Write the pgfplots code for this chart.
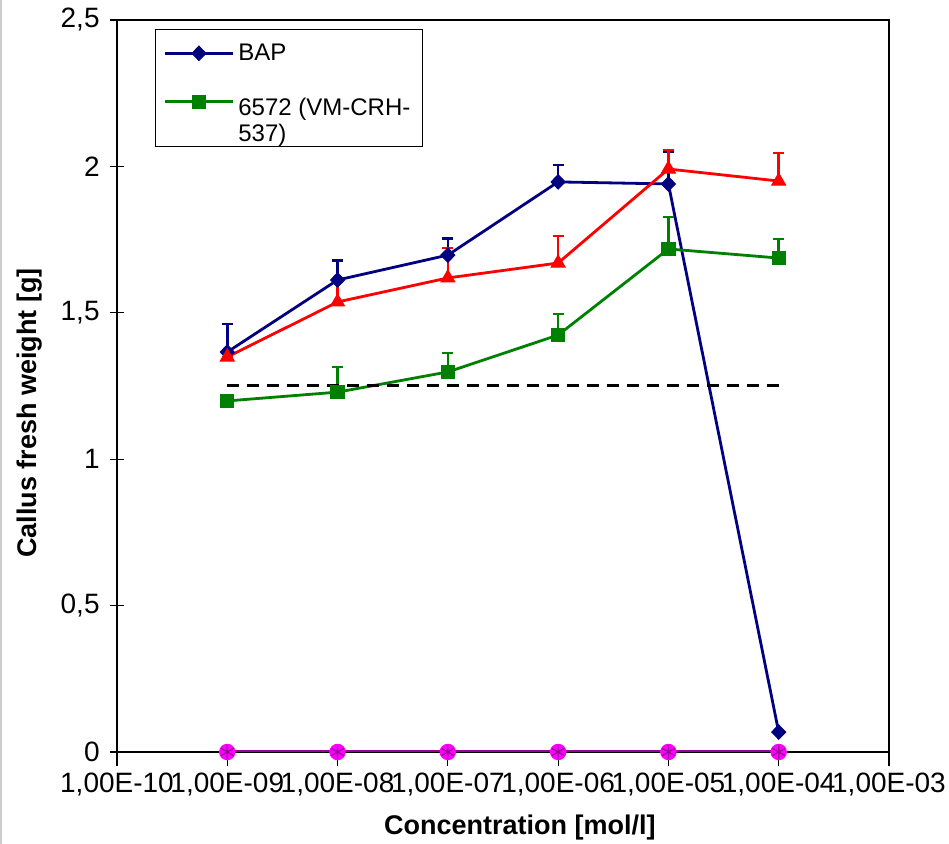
\documentclass[border=0pt]{standalone}
\usepackage{fontspec}
\setmainfont{Liberation Sans}
\usepackage{pgfplots}
\pgfplotsset{compat=1.18}

\definecolor{bapblue}{RGB}{0,0,128}
\definecolor{vmgreen}{RGB}{0,128,0}
\definecolor{tred}{RGB}{255,0,0}
\definecolor{ctrlpurple}{RGB}{153,0,153}
\definecolor{ctrlmag}{RGB}{255,0,255}

% concentration, mean fresh weight, plus error
\pgfplotstableread{
x      y      e
1e-9   1.366  0.096
1e-8   1.612  0.066
1e-7   1.697  0.056
1e-6   1.947  0.058
1e-5   1.940  0.110
1e-4   0.068  0.000
}\bap
\pgfplotstableread{
x      y      e
1e-9   1.199  0.000
1e-8   1.229  0.086
1e-7   1.298  0.065
1e-6   1.424  0.072
1e-5   1.718  0.109
1e-4   1.687  0.065
}\vm
\pgfplotstableread{
x      y      e
1e-9   1.349  0.000
1e-8   1.537  0.068
1e-7   1.619  0.102
1e-6   1.670  0.092
1e-5   1.991  0.065
1e-4   1.950  0.096
}\tri
\pgfplotstableread{
x      y
1e-9   0
1e-8   0
1e-7   0
1e-6   0
1e-5   0
1e-4   0
}\ctrl

\begin{document}
\begin{tikzpicture}
\begin{axis}[
  name=ax,
  scale only axis, width=386pt, height=366pt,
  xmode=log, xmin=1e-10, xmax=1e-3,
  ymin=0, ymax=2.5,
  xtick={1e-10,1e-9,1e-8,1e-7,1e-6,1e-5,1e-4,1e-3},
  xticklabels={{1,00E-10},{1,00E-09},{1,00E-08},{1,00E-07},{1,00E-06},{1,00E-05},{1,00E-04},{1,00E-03}},
  xminorticks=false,
  ytick={0,0.5,1,1.5,2,2.5},
  yticklabels={0,{0,5},1,{1,5},2,{2,5}},
  xtick pos=left, ytick pos=left,
  xtick align=outside, ytick align=center,
  major tick length=7pt,
  tick style={black, line width=0.6pt},
  axis line style={line width=1pt},
  tick label style={font=\fontsize{14}{16}\selectfont},
  xticklabel style={anchor=north, inner sep=0pt, yshift=-3.5pt},
  yticklabel style={anchor=east, inner sep=0pt},
  yticklabel shift=5pt,
  xlabel={\textbf{Concentration [mol/l]}},
  ylabel={\textbf{Callus fresh weight [g]}},
  label style={font=\fontsize{13.5}{16}\selectfont},
  xlabel style={at={(axis description cs:0.522,-0.1038)}, anchor=center},
  ylabel style={at={(axis description cs:-0.1127,0.463)}, anchor=center, rotate=0},
  legend style={at={(0.0492,0.9877)}, anchor=north west, draw=black, line width=0.6pt,
    font=\fontsize{12}{13}\selectfont, row sep=13pt, inner xsep=4pt, inner ysep=5pt,
    cells={anchor=west}},
  legend image code/.code={\draw[mark repeat=2,mark phase=2] plot coordinates {(0pt,0pt)(17pt,0pt)(34pt,0pt)};},
]
\addplot[bapblue, line width=1.4pt, mark=diamond*, mark size=3.6pt,
  mark options={solid, line width=0.5pt, xscale=1.3},
  error bars/.cd, y dir=plus, y explicit, error mark=|,
  error bar style={line width=1.3pt},
  error mark options={line width=1.3pt, mark size=2.8pt}]
  table[x=x, y=y, y error=e] {\bap};
\addlegendentry{BAP}
\addplot[vmgreen, line width=1.4pt, mark=square*, mark size=3.3pt,
  mark options={solid, line width=0.5pt},
  error bars/.cd, y dir=plus, y explicit, error mark=|,
  error bar style={line width=1.3pt},
  error mark options={line width=1.3pt, mark size=2.8pt},
  /pgfplots/legend image code/.code={\draw[mark repeat=2,mark phase=2,yshift=6.5pt] plot coordinates {(0pt,0pt)(17pt,0pt)(34pt,0pt)};}]
  table[x=x, y=y, y error=e] {\vm};
\addlegendentry{\begin{tabular}{@{}l@{}}6572 (VM-CRH-\\537)\end{tabular}}
\addplot[tred, line width=1.4pt, mark=triangle*, mark size=4pt,
  mark options={solid, line width=0.5pt}, forget plot,
  error bars/.cd, y dir=plus, y explicit, error mark=|,
  error bar style={line width=1.3pt},
  error mark options={line width=1.3pt, mark size=2.8pt}]
  table[x=x, y=y, y error=e] {\tri};
\addplot[ctrlpurple, line width=1.6pt, mark=*, mark size=3.3pt,
  mark options={fill=ctrlmag, draw=ctrlmag}, forget plot]
  table[x=x, y=y] {\ctrl};
\addplot[ctrlpurple, only marks, mark=asterisk, mark size=3.6pt,
  mark options={line width=0.6pt}, forget plot]
  table[x=x, y=y] {\ctrl};
\addplot[black, line width=1.5pt, dash pattern=on 6pt off 4pt, forget plot]
  coordinates {(1e-9,1.25) (1e-4,1.25)};
\end{axis}
\pgfresetboundingbox
\path[use as bounding box] ([shift={(-58.5pt,-46pt)}]ax.south west) rectangle ([shift={(30pt,10pt)}]ax.north east);
\draw[black!20, line width=1pt] ([shift={(-58pt,-46pt)}]ax.south west) -- ([shift={(-58pt,10pt)}]ax.north west);
\end{tikzpicture}
\end{document}
